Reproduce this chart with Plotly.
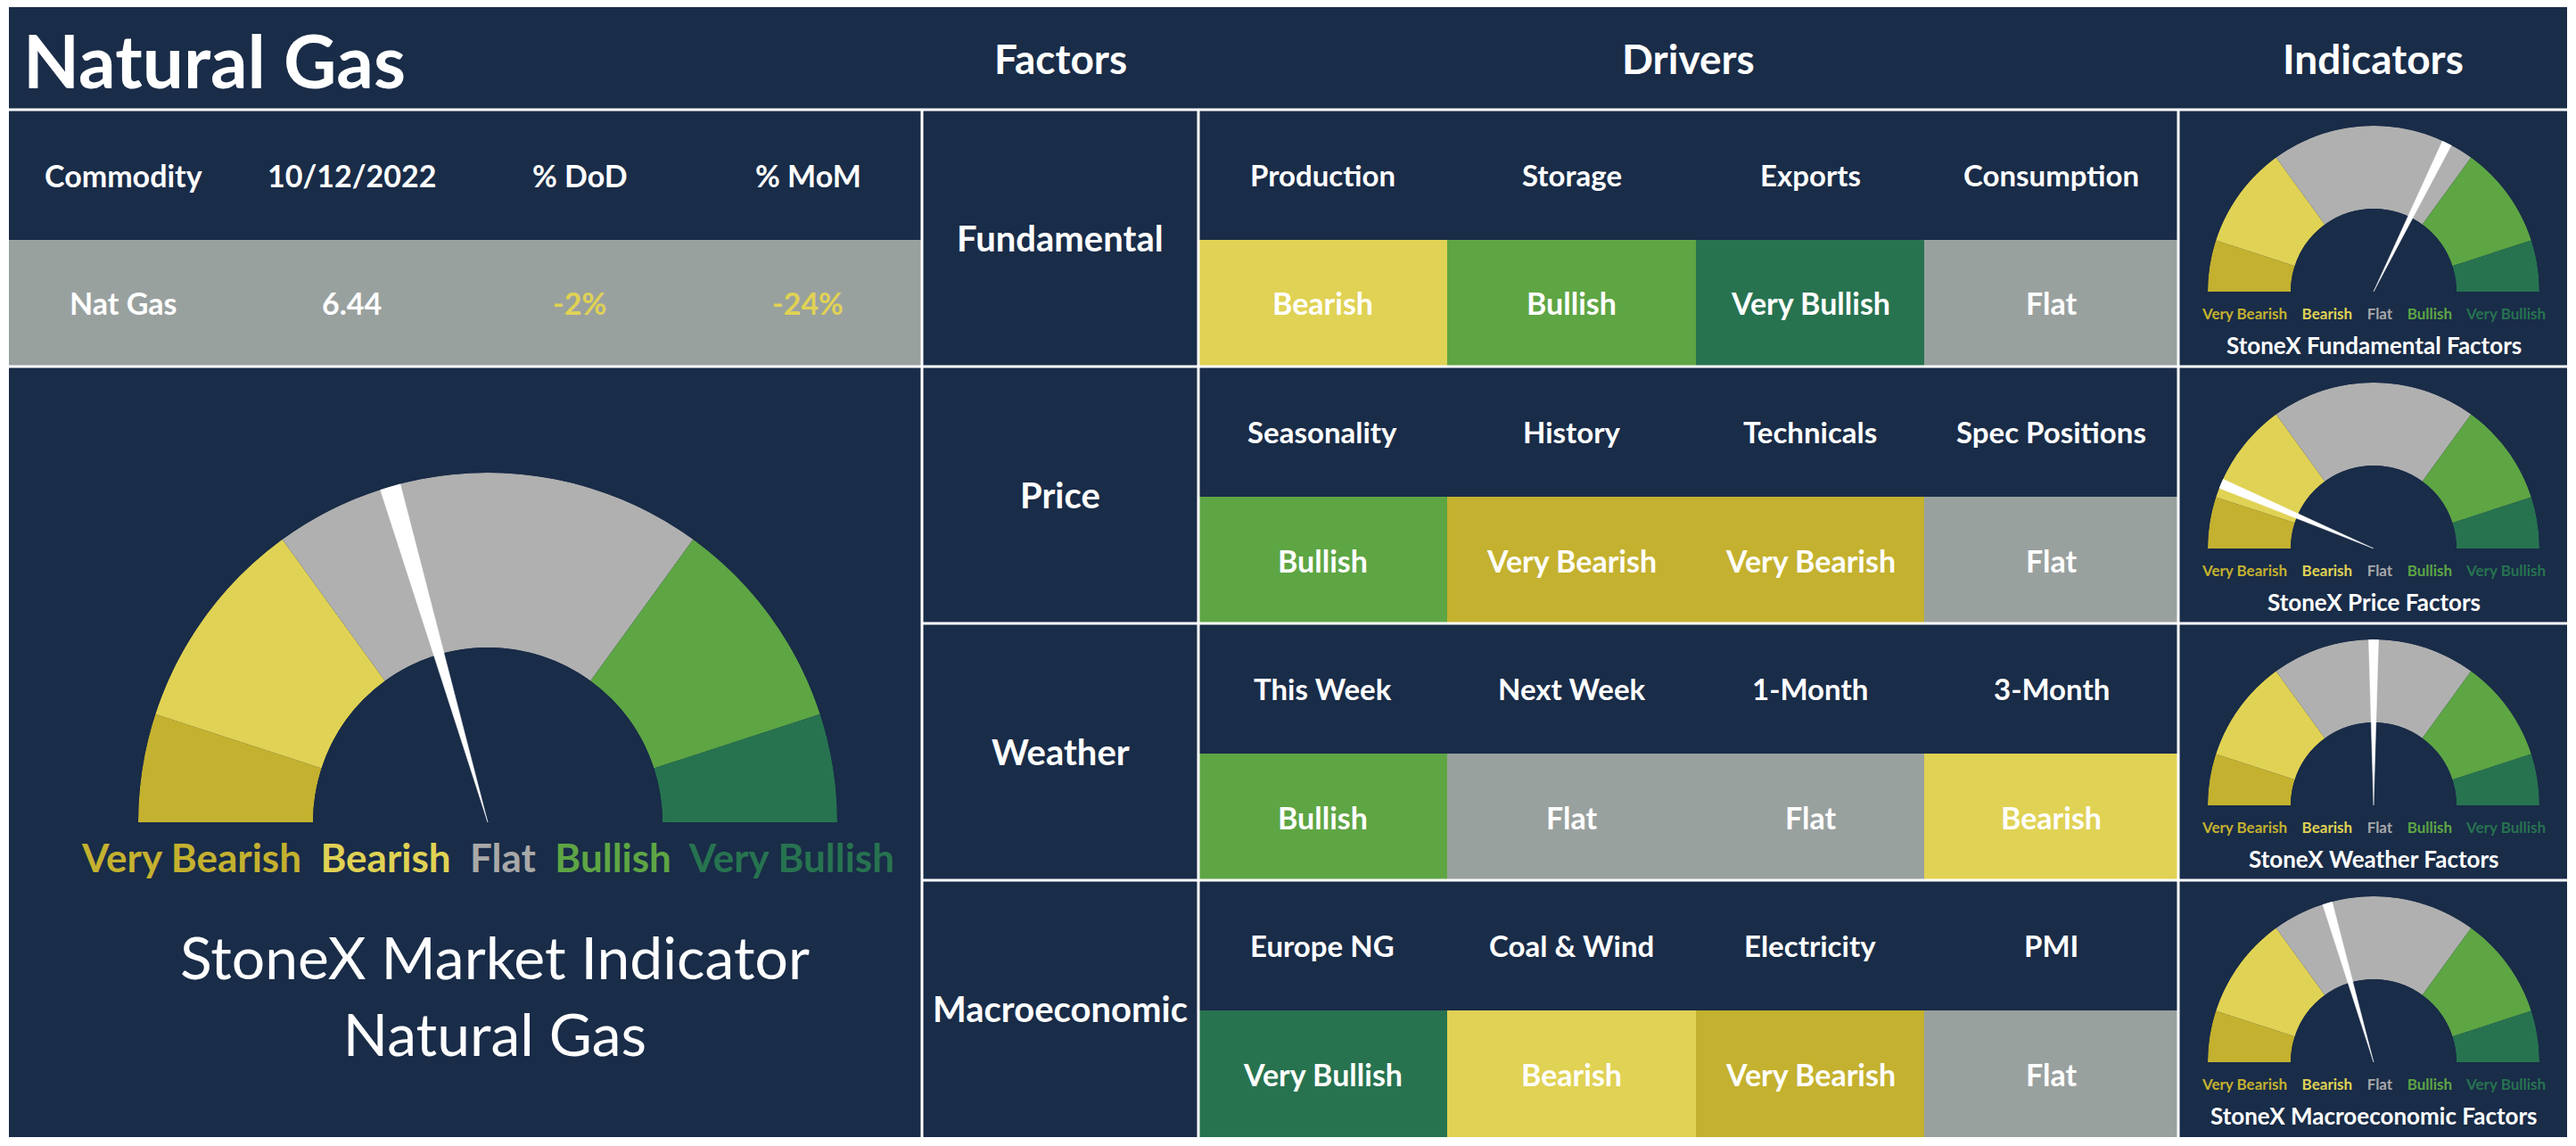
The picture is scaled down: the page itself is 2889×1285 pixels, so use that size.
import plotly.graph_objects as go

############################# dados ###################################
titulo = "Natural Gas"
colunas_topo = ["Factors", "Drivers", "Indicators"]
cabecalho = ["Commodity", "10/12/2022", "% DoD", "% MoM"]
commodity = "Nat Gas"
preco = 6.44
var_dod = -2      # %
var_mom = -24     # %

factors = ["Fundamental", "Price", "Weather", "Macroeconomic"]
drivers = [
    ["Production", "Storage", "Exports", "Consumption"],
    ["Seasonality", "History", "Technicals", "Spec Positions"],
    ["This Week", "Next Week", "1-Month", "3-Month"],
    ["Europe NG", "Coal & Wind", "Electricity", "PMI"],
]
signals = [
    ["Bearish", "Bullish", "Very Bullish", "Flat"],
    ["Bullish", "Very Bearish", "Very Bearish", "Flat"],
    ["Bullish", "Flat", "Flat", "Bearish"],
    ["Very Bullish", "Bearish", "Very Bearish", "Flat"],
]
levels = ["Very Bearish", "Bearish", "Flat", "Bullish", "Very Bullish"]
band_sizes = [10, 20, 40, 20, 10]            # fatia de cada faixa no mostrador (0-100)
factor_scores = [64.6, 12.8, 50.0, 41.0]     # posicao do ponteiro (0-100)
market_score = 41.0
indicator_titles = ["StoneX Fundamental Factors", "StoneX Price Factors",
                    "StoneX Weather Factors", "StoneX Macroeconomic Factors"]
market_title = ["StoneX Market Indicator", "Natural Gas"]

############################# estilo ###################################
NAVY = "#192c48"
FONT = "Lato"
cell_colors = {"Very Bearish": "#c4b12f", "Bearish": "#e0d254", "Flat": "#99a19f",
               "Bullish": "#5ea544", "Very Bullish": "#277350"}
band_colors = dict(cell_colors, Flat="#b0b0b0")
label_colors = dict(cell_colors, Flat="#a8a8a8")

# geometria em pixels da pagina (a pagina tem margem de 8px no body)
FIG_W, FIG_H, OFF = 2873, 1269, 8
def px(x):
    return (x - OFF) / FIG_W
def py(y):
    return 1 - (y - OFF) / FIG_H

LEFT, RIGHT, TOP, BOTTOM = 10, 2879, 7, 1275
HEAD_Y = 123
ROW_H = 288
LABEL_H = 146
X_FACT, X_DRV, X_IND = 1034, 1344, 2443
drv_edges = [1344, 1623, 1902, 2158, 2443]

fig = go.Figure()
shapes = []
annotations = []

def rect(x0, y0, x1, y1, color):
    shapes.append(dict(type="rect", xref="paper", yref="paper", x0=px(x0), x1=px(x1),
                       y0=py(y1), y1=py(y0), fillcolor=color, line_width=0, layer="below"))

def line(x0, y0, x1, y1):
    shapes.append(dict(type="line", xref="paper", yref="paper", x0=px(x0), x1=px(x1),
                       y0=py(y0), y1=py(y1), line=dict(color="white", width=3)))

def txt(x, y, s, size, color="white", weight="bold", xanchor="center"):
    annotations.append(dict(x=px(x), y=py(y), xref="paper", yref="paper", text=s,
                            showarrow=False, xanchor=xanchor, yanchor="middle",
                            font=dict(family=FONT, size=size, color=color, weight=weight)))

# fundo
rect(LEFT, TOP, RIGHT, BOTTOM, NAVY)

# cabecalho
txt(24, 67, titulo, 82, xanchor="left")
for nome, xc in zip(colunas_topo, [(X_FACT + X_DRV) / 2, (X_DRV + X_IND) / 2, (X_IND + RIGHT) / 2]):
    txt(xc, 66, nome, 46)

# tabela da commodity (esquerda)
col_w = (X_FACT - LEFT) / len(cabecalho)
rect(LEFT, HEAD_Y + LABEL_H, X_FACT, HEAD_Y + ROW_H, cell_colors["Flat"])
valores = [commodity, f"{preco:.2f}", f"{var_dod}%", f"{var_mom}%"]
cores_val = ["white", "white",
             cell_colors["Bearish"] if var_dod < 0 else "white",
             cell_colors["Bearish"] if var_mom < 0 else "white"]
for i, (h, v, c) in enumerate(zip(cabecalho, valores, cores_val)):
    xc = LEFT + col_w * (i + 0.5)
    txt(xc, HEAD_Y + LABEL_H / 2, h, 34)
    txt(xc, HEAD_Y + LABEL_H + (ROW_H - LABEL_H) / 2, v, 34, color=c)

# fatores e drivers
for r, fator in enumerate(factors):
    y0 = HEAD_Y + r * ROW_H
    txt((X_FACT + X_DRV) / 2, y0 + ROW_H / 2, fator, 40)
    for c in range(4):
        xa, xb = drv_edges[c], drv_edges[c + 1]
        rect(xa, y0 + LABEL_H, xb, y0 + ROW_H, cell_colors[signals[r][c]])
        txt((xa + xb) / 2, y0 + LABEL_H / 2, drivers[r][c], 33)
        txt((xa + xb) / 2, y0 + LABEL_H + (ROW_H - LABEL_H) / 2, signals[r][c], 34)

# linhas brancas
line(LEFT, HEAD_Y, RIGHT, HEAD_Y)
line(LEFT, HEAD_Y + ROW_H, X_FACT, HEAD_Y + ROW_H)
for r in range(1, 4):
    line(X_FACT, HEAD_Y + r * ROW_H, RIGHT, HEAD_Y + r * ROW_H)
for xv in [X_FACT, X_DRV, X_IND]:
    line(xv, HEAD_Y, xv, BOTTOM)

############################# mostradores ###################################
polars = {}
NEEDLE_HALF = 1.7   # meia largura do ponteiro em graus

def gauge(k, cx, cy, R, score, lab_size, gap):
    # theta em graus: 0 = esquerda, 180 = direita
    edges = [0]
    for b in band_sizes:
        edges.append(edges[-1] + b)
    centers = [(edges[i] + edges[i + 1]) / 2 * 1.8 for i in range(len(band_sizes))]
    widths = [b * 1.8 for b in band_sizes]
    dom = dict(x=[px(cx - R), px(cx + R)], y=[py(cy), py(cy - R)])
    ax = dict(radialaxis=dict(visible=False, range=[0, 1]),
              angularaxis=dict(visible=False, rotation=180, direction="clockwise"),
              sector=[0, 180], bgcolor="rgba(0,0,0,0)", bargap=0, domain=dom)
    pa = "polar" if k == 0 else f"polar{2 * k + 1}"
    pb = f"polar{2 * k + 2}"
    polars[pa] = dict(ax, hole=0.5)
    polars[pb] = dict(ax, hole=0)
    fig.add_trace(go.Barpolar(r=[1] * len(levels), theta=centers, width=widths,
                              marker=dict(color=[band_colors[l] for l in levels], line_width=0),
                              subplot=pa, hoverinfo="skip", showlegend=False))
    a = score * 1.8
    fig.add_trace(go.Scatterpolar(r=[0, 1, 1, 0], theta=[a, a - NEEDLE_HALF, a + NEEDLE_HALF, a],
                                  mode="lines", fill="toself", fillcolor="white",
                                  line=dict(color="white", width=0.5),
                                  subplot=pb, hoverinfo="skip", showlegend=False))
    sep = "\u00a0" * gap
    legenda = sep.join(f"<span style='color:{label_colors[l]}'>{l}</span>" for l in levels)
    txt(cx, cy + R * (0.1 if R > 300 else 0.13), legenda, lab_size)

# grande, a esquerda
gauge(0, 547, 922, 392, market_score, 44, 2)
annotations.append(dict(x=px(555), y=py(1115), xref="paper", yref="paper",
                        text="<br>".join(market_title), showarrow=False,
                        xanchor="center", yanchor="middle",
                        font=dict(family=FONT, size=66, color="white")))

# pequenos, coluna Indicators
for r in range(4):
    y0 = HEAD_Y + r * ROW_H
    gauge(r + 1, 2662, y0 + 204, 186, factor_scores[r], 17, 4)
    txt(2662, y0 + 264, indicator_titles[r], 26)

fig.update_layout(width=FIG_W, height=FIG_H, margin=dict(l=0, r=0, t=0, b=0),
                  paper_bgcolor="white", plot_bgcolor="white",
                  shapes=shapes, annotations=annotations, showlegend=False, **polars)

fig.write_html("out.html")
